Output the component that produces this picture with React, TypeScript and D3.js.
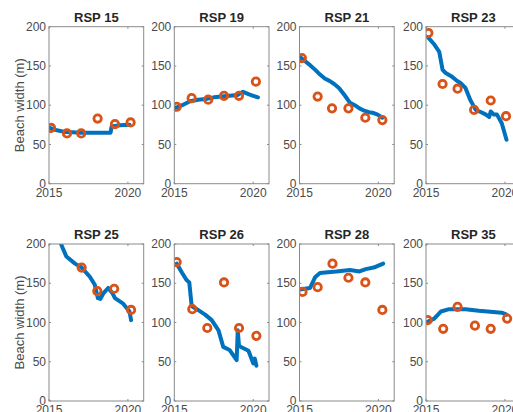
import React from "react";
import * as d3 from "d3";

type Pt = [number, number];

const titles = ["RSP 15", "RSP 19", "RSP 21", "RSP 23", "RSP 25", "RSP 26", "RSP 28", "RSP 35"];
const yTicks = [0, 50, 100, 150, 200];
const xTicks = [2015, 2020];

const rsp15Line: Pt[] = [[2015.05, 71], [2015.5, 68], [2016.0, 66], [2016.5, 65.5], [2017, 65], [2018, 65], [2018.9, 65], [2018.97, 73], [2019.5, 74.5], [2020.1, 75]];
const rsp15Survey: Pt[] = [[2015.13, 71], [2016.14, 64], [2017.04, 64], [2018.08, 83], [2019.18, 76], [2020.17, 78]];

const rsp19Line: Pt[] = [[2015.02, 96], [2015.5, 100], [2016, 105], [2016.5, 107], [2017, 108], [2017.5, 110], [2018, 111], [2018.5, 112], [2019, 113], [2019.35, 117], [2019.7, 114], [2020.0, 112], [2020.3, 110]];
const rsp19Survey: Pt[] = [[2015.15, 98], [2016.1, 109], [2017.15, 107], [2018.15, 112], [2019.1, 112], [2020.17, 130]];

const rsp21Line: Pt[] = [[2015.0, 162], [2015.3, 157], [2015.67, 151], [2016.0, 145], [2016.3, 139], [2016.6, 134], [2016.9, 131], [2017.2, 127], [2017.5, 122], [2017.85, 113], [2018.2, 103], [2018.5, 100], [2018.8, 96], [2019.1, 93], [2019.4, 91], [2019.7, 90], [2019.95, 88], [2020.25, 84]];
const rsp21Survey: Pt[] = [[2015.15, 160], [2016.15, 111], [2017.06, 96], [2018.1, 96], [2019.17, 84], [2020.25, 81]];

const rsp23Line: Pt[] = [[2015.15, 186], [2015.5, 178], [2015.84, 168], [2016.05, 145], [2016.25, 141], [2016.6, 137], [2016.9, 132], [2017.2, 128], [2017.5, 122], [2017.8, 107], [2018.15, 94], [2018.5, 91], [2018.8, 88], [2019.0, 85], [2019.1, 92], [2019.3, 88], [2019.5, 88], [2019.8, 77], [2020.0, 63], [2020.1, 56]];
const rsp23Survey: Pt[] = [[2015.15, 192], [2016.05, 127], [2017.0, 121], [2018.05, 94], [2019.1, 106], [2020.07, 86]];

const rsp25Line: Pt[] = [[2015.7, 205], [2015.8, 198], [2016.1, 184], [2016.65, 175], [2017.07, 170], [2017.6, 158], [2017.9, 148], [2018.1, 131], [2018.25, 130], [2018.44, 137], [2018.75, 144], [2019.0, 138], [2019.18, 131], [2019.7, 124], [2020.1, 114], [2020.2, 103]];
const rsp25Survey: Pt[] = [[2017.07, 170], [2018.06, 140], [2019.13, 143], [2020.2, 116]];

const rsp26Line: Pt[] = [[2015.15, 175], [2015.5, 163], [2015.78, 154], [2015.95, 151], [2016.1, 121], [2016.5, 116], [2016.95, 110], [2017.37, 103], [2017.8, 90], [2018.1, 69], [2018.5, 65], [2018.95, 52], [2019.02, 90], [2019.1, 70], [2019.7, 64], [2020.0, 48], [2020.1, 54], [2020.2, 45]];
const rsp26Survey: Pt[] = [[2015.15, 177], [2016.14, 117], [2017.09, 93], [2018.15, 151], [2019.1, 93], [2020.2, 83]];

const rsp28Line: Pt[] = [[2015.0, 142], [2015.67, 144], [2016.0, 158], [2016.3, 163], [2016.8, 164], [2017.34, 165], [2018.2, 167], [2018.8, 165], [2019.2, 168], [2019.7, 170], [2020.3, 175]];
const rsp28Survey: Pt[] = [[2015.19, 139], [2016.15, 145], [2017.09, 175], [2018.1, 157], [2019.17, 151], [2020.25, 116]];

const rsp35Line: Pt[] = [[2015.1, 101], [2015.52, 105], [2015.94, 114], [2016.47, 117], [2017.5, 117], [2018.35, 115], [2019.8, 112.5], [2020.1, 110]];
const rsp35Survey: Pt[] = [[2015.1, 103], [2016.09, 92], [2017.0, 120], [2018.1, 96], [2019.1, 92], [2020.14, 105]];

const lines = [rsp15Line, rsp19Line, rsp21Line, rsp23Line, rsp25Line, rsp26Line, rsp28Line, rsp35Line];
const surveys = [rsp15Survey, rsp19Survey, rsp21Survey, rsp23Survey, rsp25Survey, rsp26Survey, rsp28Survey, rsp35Survey];

const W = 513;
const H = 412;
const colLefts = [49, 174.3, 299.5, 426];
const rowTops = [26.7, 244];
const PW = 94.7;
const PH = 157;
const BLUE = "#0072BD";
const ORANGE = "#D95319";
const AXIS = "#8a8a8a";
const TXT = "#4a4a4a";
const FONT = "'Liberation Sans', Arial, Helvetica, sans-serif";

function Panel({ idx }: { idx: number }) {
  const col = idx % 4;
  const row = Math.floor(idx / 4);
  const left = colLefts[col];
  const top = rowTops[row];
  const x = d3.scaleLinear().domain([2015, 2021]).range([left, left + PW]);
  const y = d3.scaleLinear().domain([0, 200]).range([top + PH, top]);
  const line = d3.line<Pt>().x((d) => x(d[0])).y((d) => y(d[1]));
  const clipId = `clip${idx}`;
  const tl = 2;
  return (
    <g>
      <defs>
        <clipPath id={clipId}>
          <rect x={left} y={top} width={PW} height={PH} />
        </clipPath>
      </defs>
      <rect x={left} y={top} width={PW} height={PH} fill="white" />
      {yTicks.map((t) => (
        <g key={"y" + t}>
          <line x1={left} x2={left + tl} y1={y(t)} y2={y(t)} stroke={AXIS} />
          <line x1={left + PW} x2={left + PW - tl} y1={y(t)} y2={y(t)} stroke={AXIS} />
          <text x={left - 3} y={y(t)} dy="0.35em" textAnchor="end" fontSize={12} fill={TXT} fontFamily={FONT}>
            {t}
          </text>
        </g>
      ))}
      {xTicks.map((t) => (
        <g key={"x" + t}>
          <line x1={x(t)} x2={x(t)} y1={top + PH} y2={top + PH - tl} stroke={AXIS} />
          <line x1={x(t)} x2={x(t)} y1={top} y2={top + tl} stroke={AXIS} />
          <text x={x(t)} y={top + PH + 13} textAnchor="middle" fontSize={12} fill={TXT} fontFamily={FONT}>
            {t}
          </text>
        </g>
      ))}
      <g clipPath={`url(#${clipId})`}>
        <path d={line(lines[idx]) || ""} fill="none" stroke={BLUE} strokeWidth={4} strokeLinejoin="round" strokeLinecap="round" />
        {surveys[idx].map((d, i) => (
          <circle key={i} cx={x(d[0])} cy={y(d[1])} r={3.7} fill="none" stroke={ORANGE} strokeWidth={2.8} />
        ))}
      </g>
      <rect x={left} y={top} width={PW} height={PH} fill="none" stroke={AXIS} strokeWidth={1} />
      <text x={left + PW / 2} y={top - 5} textAnchor="middle" fontSize={13} fontWeight="bold" fill="#262626" fontFamily={FONT}>
        {titles[idx]}
      </text>
      {col === 0 && (
        <text
          transform={`translate(${19},${top + PH / 2}) rotate(-90)`}
          textAnchor="middle"
          dy="0.35em"
          fontSize={13}
          fill={TXT}
          fontFamily={FONT}
        >
          Beach width (m)
        </text>
      )}
    </g>
  );
}

export default function App() {
  return (
    <svg width={W} height={H} style={{ position: "absolute", left: 0, top: 0, background: "white" }}>
      <rect width={W} height={H} fill="white" />
      {titles.map((_, i) => (
        <Panel key={i} idx={i} />
      ))}
    </svg>
  );
}
